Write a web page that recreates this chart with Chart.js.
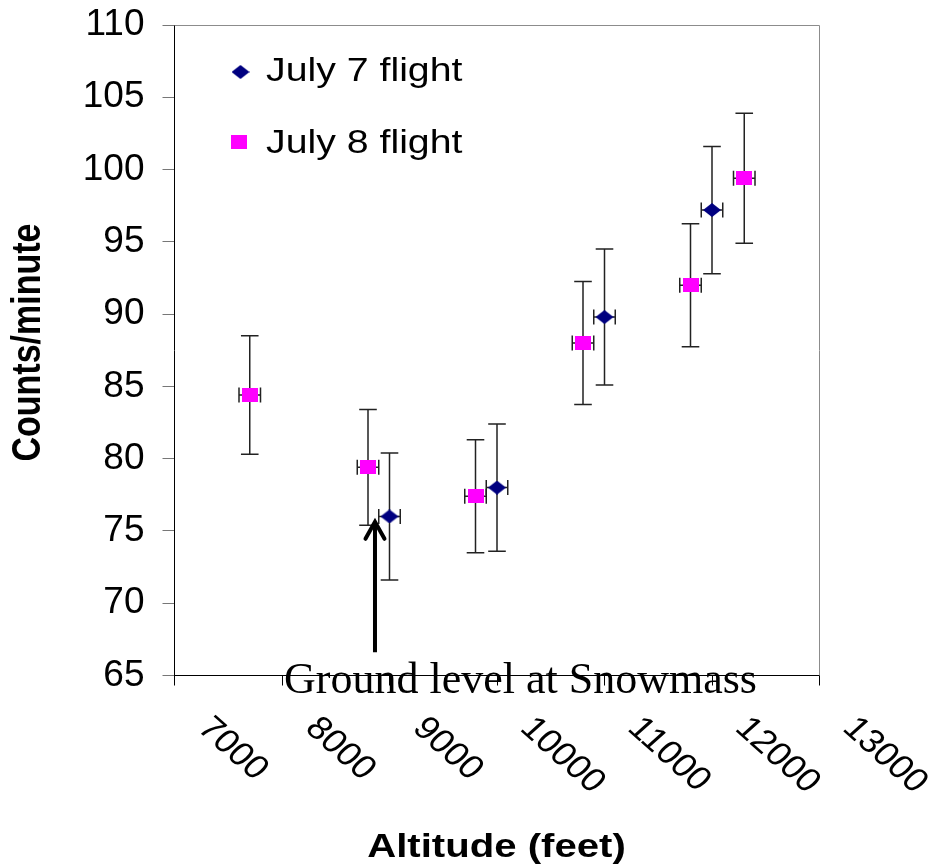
<!DOCTYPE html>
<html>
<head>
<meta charset="utf-8">
<script src="https://cdn.jsdelivr.net/npm/chart.js@4.4.1/dist/chart.umd.min.js"></script>
<style>
html, body { margin: 0; padding: 0; background: #ffffff; }
canvas { display: block; }
</style>
</head>
<body>
<canvas id="c" width="934" height="865"></canvas>
<script>
// ---------------- data ----------------
const xTickValues = [7000, 8000, 9000, 10000, 11000, 12000, 13000];
const yTickValues = [65, 70, 75, 80, 85, 90, 95, 100, 105, 110];
const seriesNames = ['July 7 flight', 'July 8 flight'];

const july7Altitude = [9000, 10000, 11000, 12000];
const july7Counts   = [76.0, 78.0, 89.8, 97.2];
const july7Error    = [4.4, 4.4, 4.7, 4.4];

const july8Altitude = [7700, 8800, 9800, 10800, 11800, 12300];
const july8Counts   = [84.4, 79.4, 77.4, 88.0, 92.0, 99.4];
const july8Error    = [4.1, 4.0, 3.9, 4.25, 4.25, 4.5];

const altitudeError = [100];

const xTitle = 'Altitude (feet)';
const yTitle = 'Counts/minute';
const annotationText = 'Ground level at Snowmass';
const arrowAltitude = [8865];
const arrowCounts = [66.6, 75.7];

// ---------------- styling helpers ----------------
const SANS = '"Liberation Sans", Arial, Helvetica, sans-serif';
const SERIF = '"Liberation Serif", "Times New Roman", Times, serif';
const NAVY = '#000080';
const MAGENTA = '#FF00FF';

function makeDiamond() {
  const c = document.createElement('canvas');
  c.width = 18; c.height = 14;
  const g = c.getContext('2d');
  g.fillStyle = NAVY;
  g.beginPath();
  g.moveTo(0, 7); g.lineTo(9, 0); g.lineTo(18, 7); g.lineTo(9, 14);
  g.closePath(); g.fill();
  return c;
}
function makeSquare() {
  const c = document.createElement('canvas');
  c.width = 16; c.height = 14;
  const g = c.getContext('2d');
  g.fillStyle = MAGENTA;
  g.fillRect(0, 0, 16, 14);
  return c;
}
const diamondImg = makeDiamond();
const squareImg = makeSquare();

function toPoints(xs, ys) {
  return xs.map((x, i) => ({ x: x, y: ys[i] }));
}

function drawText(ctx, text, x, y, font, sx, rot, align, base) {
  ctx.save();
  ctx.translate(x, y);
  ctx.scale(sx, 1);
  if (rot) ctx.rotate(rot);
  ctx.font = font;
  ctx.textAlign = align;
  ctx.textBaseline = base;
  ctx.fillStyle = '#000';
  ctx.fillText(text, 0, 0);
  ctx.restore();
}

// ---------------- plugins ----------------
const errorBarPlugin = {
  id: 'errorBars',
  beforeDatasetsDraw(chart) {
    const ctx = chart.ctx;
    const xs = chart.scales.x, ys = chart.scales.y;
    const sets = [
      { x: july7Altitude, y: july7Counts, e: july7Error },
      { x: july8Altitude, y: july8Counts, e: july8Error }
    ];
    ctx.save();
    ctx.strokeStyle = '#222';
    ctx.lineWidth = 1.5;
    sets.forEach(s => {
      s.x.forEach((xv, i) => {
        const yv = s.y[i], ev = s.e[i];
        const px = xs.getPixelForValue(xv);
        const py = ys.getPixelForValue(yv);
        const top = ys.getPixelForValue(yv + ev);
        const bot = ys.getPixelForValue(yv - ev);
        const xl = xs.getPixelForValue(xv - altitudeError[0]);
        const xr = xs.getPixelForValue(xv + altitudeError[0]);
        ctx.beginPath();
        ctx.moveTo(px, top); ctx.lineTo(px, bot);
        ctx.moveTo(px - 8.8, top); ctx.lineTo(px + 8.8, top);
        ctx.moveTo(px - 8.8, bot); ctx.lineTo(px + 8.8, bot);
        ctx.moveTo(xl, py); ctx.lineTo(xr, py);
        ctx.moveTo(xl, py - 7.5); ctx.lineTo(xl, py + 7.5);
        ctx.moveTo(xr, py - 7.5); ctx.lineTo(xr, py + 7.5);
        ctx.stroke();
      });
    });
    ctx.restore();
  }
};

const decorPlugin = {
  id: 'decor',
  afterDraw(chart) {
    const ctx = chart.ctx;
    const a = chart.chartArea;
    const xs = chart.scales.x, ys = chart.scales.y;

    // gray frame top and right
    ctx.save();
    ctx.strokeStyle = '#8c8c8c';
    ctx.lineWidth = 1;
    ctx.beginPath();
    ctx.moveTo(a.left, Math.round(a.top) + 0.5);
    ctx.lineTo(Math.floor(a.right) + 0.5, Math.round(a.top) + 0.5);
    ctx.lineTo(Math.floor(a.right) + 0.5, a.bottom);
    ctx.stroke();
    ctx.restore();

    // rotated x tick labels
    xTickValues.forEach(v => {
      const px = xs.getPixelForValue(v);
      drawText(ctx, String(v), px + 29, 723, '33px ' + SANS, 1.12, Math.PI / 4, 'left', 'middle');
    });

    // axis titles
    drawText(ctx, xTitle, 496.5, 857, 'bold 34px ' + SANS, 1.18, 0, 'center', 'alphabetic');
    drawText(ctx, yTitle, 28.5, 342.5, 'bold 34px ' + SANS, 1.18, -Math.PI / 2, 'center', 'middle');

    // legend
    ctx.drawImage(diamondImg, 240.5 - 9, 72 - 7);
    ctx.drawImage(squareImg, 239 - 8, 142 - 7);
    drawText(ctx, seriesNames[0], 266, 81, '33px ' + SANS, 1.19, 0, 'left', 'alphabetic');
    drawText(ctx, seriesNames[1], 266, 153, '33px ' + SANS, 1.19, 0, 'left', 'alphabetic');

    // arrow
    const ax = xs.getPixelForValue(arrowAltitude[0]);
    const ay0 = ys.getPixelForValue(arrowCounts[0]);
    const ay1 = ys.getPixelForValue(arrowCounts[1]);
    ctx.save();
    ctx.strokeStyle = '#000';
    ctx.lineWidth = 4;
    ctx.lineCap = 'butt';
    ctx.beginPath();
    ctx.moveTo(ax, ay0); ctx.lineTo(ax, ay1 + 2);
    ctx.stroke();
    ctx.lineJoin = 'miter';
    ctx.lineCap = 'round';
    ctx.beginPath();
    ctx.moveTo(ax - 9.5, ay1 + 18);
    ctx.lineTo(ax, ay1 + 1);
    ctx.lineTo(ax + 9.5, ay1 + 18);
    ctx.stroke();
    ctx.restore();

    // annotation
    drawText(ctx, annotationText, 284, 693, '44px ' + SERIF, 1, 0, 'left', 'alphabetic');
  }
};

// ---------------- chart ----------------
new Chart(document.getElementById('c'), {
  type: 'scatter',
  data: {
    datasets: [
      {
        label: seriesNames[0],
        data: toPoints(july7Altitude, july7Counts),
        pointStyle: diamondImg,
        backgroundColor: NAVY,
        borderColor: NAVY,
        showLine: false
      },
      {
        label: seriesNames[1],
        data: toPoints(july8Altitude, july8Counts),
        pointStyle: squareImg,
        backgroundColor: MAGENTA,
        borderColor: MAGENTA,
        showLine: false
      }
    ]
  },
  options: {
    responsive: false,
    animation: false,
    events: [],
    layout: { padding: { left: 0, right: 114.5, top: 25, bottom: 0 } },
    plugins: {
      legend: { display: false },
      tooltip: { enabled: false },
      title: { display: false }
    },
    scales: {
      x: {
        type: 'linear',
        position: 'bottom',
        min: xTickValues[0],
        max: xTickValues[xTickValues.length - 1],
        afterBuildTicks: s => { s.ticks = xTickValues.map(v => ({ value: v })); },
        afterFit: s => { s.height = 189.5; s.paddingLeft = 0; s.paddingRight = 0; },
        ticks: { display: false },
        grid: { display: true, drawOnChartArea: false, drawTicks: true, tickLength: 10, color: '#000', tickColor: '#000' },
        border: { display: true, color: '#000', width: 1 },
        title: { display: false }
      },
      y: {
        type: 'linear',
        position: 'left',
        min: yTickValues[0],
        max: yTickValues[yTickValues.length - 1],
        afterBuildTicks: s => { s.ticks = yTickValues.map(v => ({ value: v })); },
        afterFit: s => { s.width = 174.5; s.paddingTop = 0; s.paddingBottom = 0; },
        ticks: {
          color: '#000',
          padding: 18,
          font: { family: SANS, size: 37 }
        },
        grid: { display: true, drawOnChartArea: false, drawTicks: true, tickLength: 12, color: '#777', tickColor: '#777' },
        border: { display: true, color: '#000', width: 1 },
        title: { display: false }
      }
    }
  },
  plugins: [errorBarPlugin, decorPlugin]
});
</script>
</body>
</html>
